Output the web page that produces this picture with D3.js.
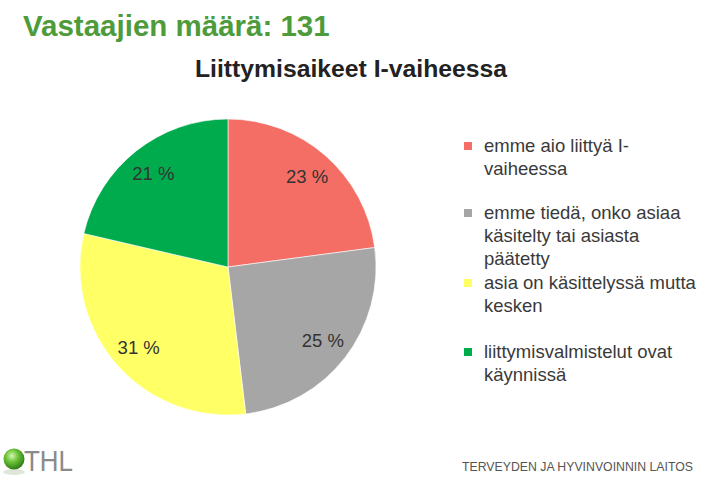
<!DOCTYPE html>
<html><head><meta charset="utf-8">
<script src="https://cdn.jsdelivr.net/npm/d3@7"></script>
<style>body{margin:0;background:#fff}svg{display:block}</style>
</head><body>
<svg id="c" width="713" height="480"></svg>
<script>
const categories = ["emme aio liittyä I-vaiheessa","emme tiedä, onko asiaa käsitelty tai asiasta päätetty","asia on käsittelyssä mutta kesken","liittymisvalmistelut ovat käynnissä"];
const legendLines = [["emme aio liittyä I-","vaiheessa"],["emme tiedä, onko asiaa","käsitelty tai asiasta","päätetty"],["asia on käsittelyssä mutta","kesken"],["liittymisvalmistelut ovat","käynnissä"]];
const counts = [30, 33, 40, 28];
const percentLabels = ["23 %","25 %","31 %","21 %"];
const colors = ["#F46E66","#A6A6A6","#FFFF66","#00AB4E"];
const mainTitle = "Vastaajien määrä: 131";
const chartTitle = "Liittymisaikeet I-vaiheessa";

const svg = d3.select("#c");
const font = "'Liberation Sans', Arial, Helvetica, sans-serif";

svg.append("text").attr("x",23).attr("y",36).attr("font-family",font).attr("font-weight","bold")
  .attr("font-size",29.5).attr("fill","#4E9B3B").text(mainTitle);
svg.append("text").attr("x",351).attr("y",77).attr("text-anchor","middle").attr("font-family",font)
  .attr("font-weight","bold").attr("font-size",23).attr("fill","#222")
  .attr("textLength",312).attr("lengthAdjust","spacingAndGlyphs").text(chartTitle);

const cx = 228, cy = 267, r = 148;
const pie = d3.pie().sort(null).value(d=>d)(counts);
const arc = d3.arc().innerRadius(0).outerRadius(r);
const labelArc = d3.arc().innerRadius(120).outerRadius(120);
const g = svg.append("g").attr("transform",`translate(${cx},${cy})`);
g.selectAll("path").data(pie).join("path").attr("d",arc).attr("fill",(d,i)=>colors[i])
  .attr("stroke","#fff").attr("stroke-width",0.6);
g.selectAll("text").data(pie).join("text")
  .attr("transform",d=>`translate(${labelArc.centroid(d)})`)
  .attr("text-anchor","middle").attr("dy","0.35em").attr("font-family",font)
  .attr("font-size",18.5).attr("fill","#333").text((d,i)=>percentLabels[i]);

const legendTop = [146,213,283,352];
const lg = svg.append("g");
legendLines.forEach((lines,i)=>{
  lg.append("rect").attr("x",464).attr("y",legendTop[i]-4).attr("width",8).attr("height",8).attr("fill",colors[i]);
  lines.forEach((t,j)=>{
    lg.append("text").attr("x",484).attr("y",legendTop[i]+22.7*j).attr("dy","0.35em")
      .attr("font-family",font).attr("font-size",18.5).attr("fill","#3a3a3a").text(t);
  });
});

// THL logo
const defs = svg.append("defs");
const rg = defs.append("radialGradient").attr("id","sph").attr("cx","40%").attr("cy","35%").attr("r","65%");
rg.append("stop").attr("offset","0%").attr("stop-color","#d8f5b0");
rg.append("stop").attr("offset","45%").attr("stop-color","#6cc43a");
rg.append("stop").attr("offset","100%").attr("stop-color","#2f7d18");
svg.append("ellipse").attr("cx",14).attr("cy",472).attr("rx",11).attr("ry",3).attr("fill","#dfe8d8");
svg.append("circle").attr("cx",14).attr("cy",459).attr("r",10.5).attr("fill","url(#sph)");
svg.append("text").attr("x",24).attr("y",471).attr("font-family","'Liberation Sans Narrow', 'Liberation Sans', sans-serif")
  .attr("font-size",29).attr("fill","#8a8a8a").attr("textLength",49).attr("lengthAdjust","spacingAndGlyphs").text("THL");
svg.append("text").attr("x",462).attr("y",471).attr("font-family","'Liberation Sans Narrow', 'Liberation Sans', sans-serif")
  .attr("font-size",13).attr("fill","#555").attr("textLength",231).attr("lengthAdjust","spacingAndGlyphs")
  .text("TERVEYDEN JA HYVINVOINNIN LAITOS");
</script>
</body></html>
